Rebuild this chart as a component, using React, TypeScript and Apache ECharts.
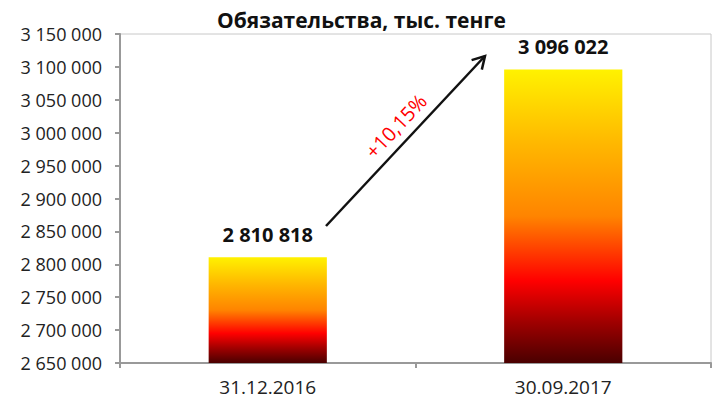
import React, { useEffect, useRef } from "react";
import * as echarts from "echarts";

const categories = ["31.12.2016", "30.09.2017"];
const values = [2810818, 3096022];
const yMin = 2650000;
const yMax = 3150000;
const yStep = 50000;
const titleText = "Обязательства, тыс. тенге";
const growthText = "+10,15%";

const fmt = (v: number) =>
  String(Math.round(v)).replace(/\B(?=(\d{3})+(?!\d))/g, " ");

export default function App() {
  const ref = useRef<HTMLDivElement>(null);
  useEffect(() => {
    if (!ref.current) return;
    const chart = echarts.init(ref.current, null, { renderer: "svg" });
    const font = "'Open Sans', sans-serif";
    const gradient = new echarts.graphic.LinearGradient(0, 0, 0, 1, [
      { offset: 0, color: "#FFF200" },
      { offset: 0.25, color: "#FFB800" },
      { offset: 0.5, color: "#FF8400" },
      { offset: 0.72, color: "#FF0000" },
      { offset: 0.86, color: "#A00000" },
      { offset: 1, color: "#4A0000" },
    ]);
    // arrow geometry
    const sx = 326, sy = 226, ex = 485, ey = 56;
    const len = Math.hypot(ex - sx, ey - sy);
    const ux = (ex - sx) / len, uy = (ey - sy) / len;
    const hl = 14, ang = Math.PI / 6;
    const rot = (x: number, y: number, a: number) => [
      x * Math.cos(a) - y * Math.sin(a),
      x * Math.sin(a) + y * Math.cos(a),
    ];
    const [h1x, h1y] = rot(-ux, -uy, ang);
    const [h2x, h2y] = rot(-ux, -uy, -ang);
    const angle = Math.atan2(-(ey - sy), ex - sx);

    chart.setOption({
      animation: false,
      backgroundColor: "#ffffff",
      title: {
        text: titleText,
        left: 212,
        top: 4,
        textStyle: { fontFamily: font, fontSize: 21, fontWeight: "bold", color: "#111" },
      },
      grid: {
        left: 120,
        right: 5,
        top: 34,
        bottom: 47,
        show: true,
        borderColor: "#c8c8c8",
        borderWidth: 1,
      },
      xAxis: {
        type: "category",
        data: categories,
        axisLine: { lineStyle: { color: "#999", width: 2 } },
        axisTick: { show: true, length: 5, lineStyle: { color: "#999", width: 2 } },
        axisLabel: { fontFamily: font, fontSize: 19, color: "#222", margin: 14 },
      },
      yAxis: {
        type: "value",
        min: yMin,
        max: yMax,
        interval: yStep,
        splitLine: { show: false },
        axisLine: { show: true, lineStyle: { color: "#999", width: 2 } },
        axisTick: { show: true, length: 5, lineStyle: { color: "#999", width: 2 } },
        axisLabel: {
          fontFamily: font,
          fontSize: 18,
          color: "#222",
          margin: 18,
          formatter: (v: number) => fmt(v),
        },
      },
      series: [
        {
          type: "bar",
          data: values,
          barWidth: "40%",
          itemStyle: { color: gradient },
          label: {
            show: true,
            position: "top",
            distance: 13,
            fontFamily: font,
            fontSize: 20,
            fontWeight: "bold",
            color: "#111",
            formatter: (p: any) => fmt(p.value),
          },
        },
      ],
      graphic: [
        {
          type: "line",
          shape: { x1: sx, y1: sy, x2: ex, y2: ey },
          style: { stroke: "#111", lineWidth: 2.5 },
        },
        {
          type: "polyline",
          shape: {
            points: [
              [ex + h1x * hl, ey + h1y * hl],
              [ex, ey],
              [ex + h2x * hl, ey + h2y * hl],
            ],
          },
          style: { stroke: "#111", lineWidth: 2.5, fill: null },
        },
        {
          type: "text",
          x: 396,
          y: 126,
          rotation: angle,
          style: {
            text: growthText,
            fontFamily: font,
            fontSize: 20,
            fill: "#ff0000",
            align: "center",
            verticalAlign: "middle",
          },
        },
      ],
    });
    return () => chart.dispose();
  }, []);
  return (
    <div
      ref={ref}
      style={{ position: "absolute", left: 0, top: 0, width: 716, height: 410 }}
    />
  );
}
